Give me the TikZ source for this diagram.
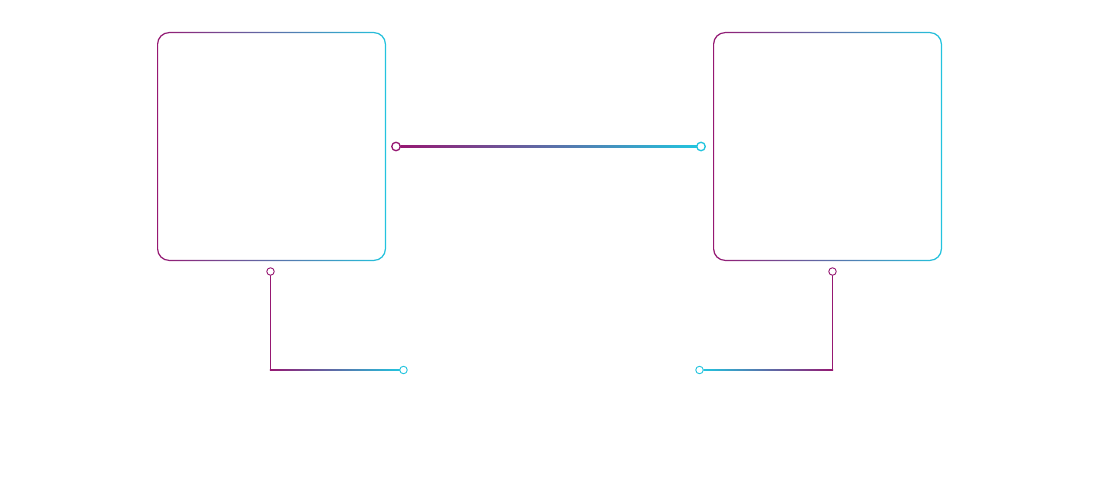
\documentclass[tikz,border=0pt]{standalone}
\usetikzlibrary{positioning,calc,backgrounds}
\definecolor{linkmagenta}{RGB}{150,24,114}
\definecolor{linkcyan}{RGB}{34,196,222}
\tikzset{
  panel-node/.style={rectangle, minimum width=229pt, minimum height=229pt,
    inner sep=0pt, outer sep=0pt},
  panel-ring/.style={left color=linkmagenta, right color=linkcyan, even odd rule},
  port-node/.style={circle, fill=white, line width=1.3pt, minimum size=8.5pt,
    inner sep=0pt, outer sep=0pt},
  tap-node/.style={circle, fill=white, line width=0.9pt, minimum size=7.5pt,
    inner sep=0pt, outer sep=0pt},
  wire-grad/.style={left color=linkmagenta, right color=linkcyan},
  wire-back/.style={left color=linkcyan, right color=linkmagenta},
}
\begin{document}
\begin{tikzpicture}[x=1pt, y=-1pt]
\useasboundingbox (0,0) rectangle (1100,500);
% the two panels
\node[panel-node] (leftbox)  at (271.5,146.5) {};
\node[panel-node] (rightbox) at (827.5,146.5) {};
\foreach \b in {leftbox,rightbox}{
  \shade[panel-ring]
    [rounded corners=12pt] (\b.south west) rectangle (\b.north east)
    [rounded corners=11pt] ($(\b.south west)+(1.2,-1.2)$) rectangle ($(\b.north east)+(-1.2,1.2)$);
}
% ports
\node[port-node, draw=linkmagenta] (linkstart) at (396,146.5) {};
\node[port-node, draw=linkcyan]    (linkend)   at (701,146.5) {};
\node[tap-node, draw=linkmagenta] (lefttap)  at (270.5,271.5) {};
\node[tap-node, draw=linkcyan]    (leftout)  at (403.5,370) {};
\node[tap-node, draw=linkmagenta] (righttap) at (832.5,271.5) {};
\node[tap-node, draw=linkcyan]    (rightout) at (699.5,370) {};
\coordinate (leftbend)  at (270.5,370);
\coordinate (rightbend) at (832.5,370);
% links, kept under the ports
\begin{scope}[on background layer]
\shade[wire-grad] ($(linkstart.east)+(0,-1.1)$) rectangle ($(linkend.west)+(0,1.1)$);
\draw[linkmagenta, line width=1.3pt] (lefttap.south) -- ($(leftbend)+(0,0.65)$);
\shade[wire-grad] ($(leftbend)+(-0.65,-0.65)$) rectangle ($(leftout.west)+(0,0.65)$);
\draw[linkmagenta, line width=1.3pt] (righttap.south) -- ($(rightbend)+(0,0.65)$);
\shade[wire-back] ($(rightout.east)+(0,-0.65)$) rectangle ($(rightbend)+(0.65,0.65)$);
\end{scope}
\end{tikzpicture}
\end{document}
